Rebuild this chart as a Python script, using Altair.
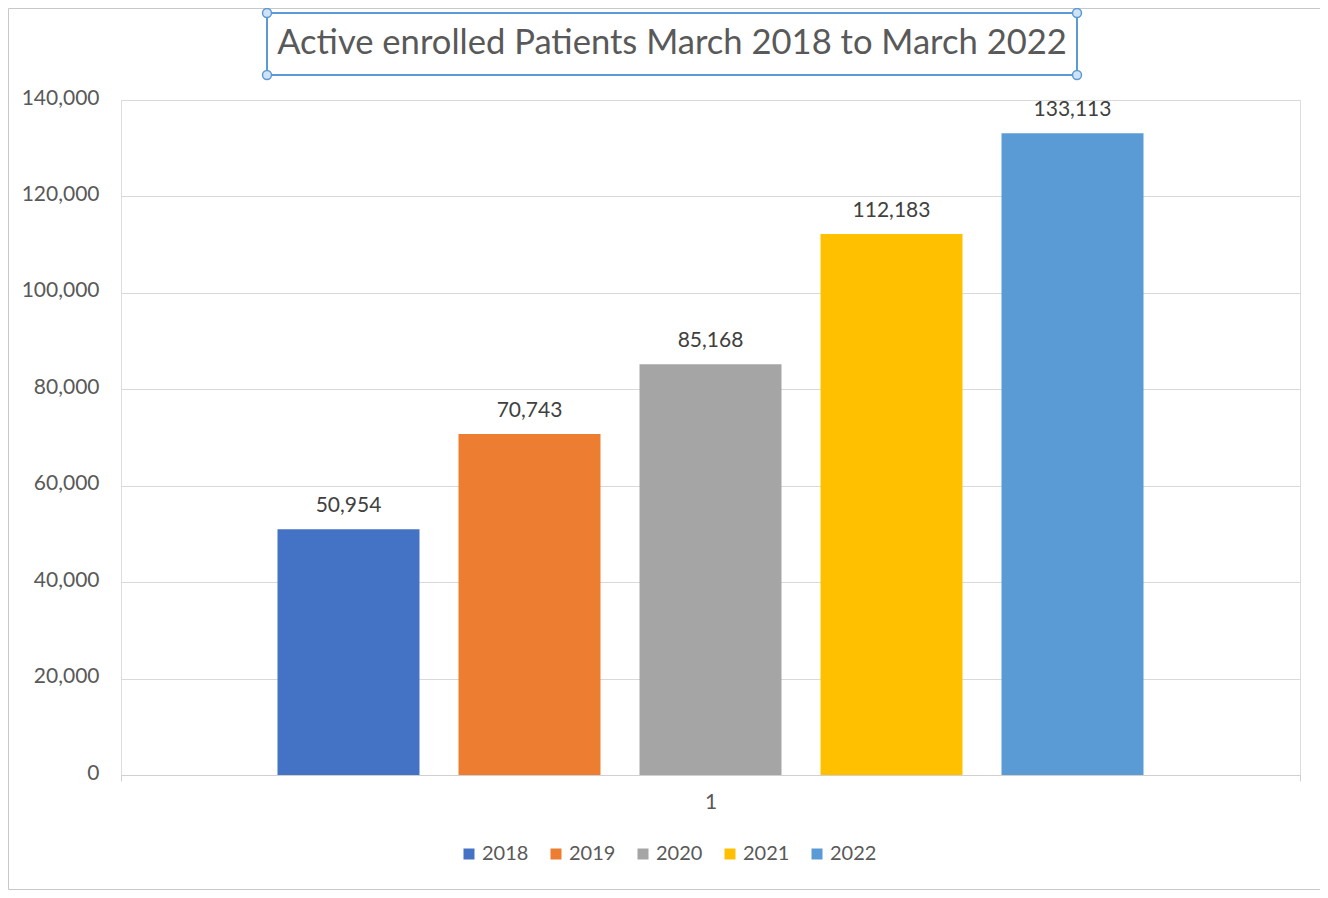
import altair as alt
import pandas as pd

categories = ["1"]
years = ["2018", "2019", "2020", "2021", "2022"]
values = [50954, 70743, 85168, 112183, 133113]
colors = ["#4472C4", "#ED7D31", "#A5A5A5", "#FFC000", "#5B9BD5"]
y_ticks = [0, 20000, 40000, 60000, 80000, 100000, 120000, 140000]
title_text = "Active enrolled Patients March 2018 to March 2022"

df = pd.DataFrame({"cat": categories * len(years), "year": years, "value": values})

FONT = "Lato"
W, H = 1179, 675

x_enc = alt.X("cat:N", title=None, scale=alt.Scale(paddingInner=0, paddingOuter=0),
              axis=alt.Axis(labelAngle=0, labelFontSize=21, labelColor="#595959", labelFont=FONT,
                            labelBaseline="middle", labelPadding=21, tickSize=6, tickBand="extent",
                            tickColor="#d0d0d0", domainColor="#d0d0d0", grid=False))
xo_enc = alt.XOffset("year:N", scale=alt.Scale(paddingInner=0.2155, paddingOuter=0.8646))
y_enc = alt.Y("value:Q", title=None,
              scale=alt.Scale(domain=[0, 140000], nice=False),
              axis=alt.Axis(values=y_ticks, format=",d", labelFontSize=21, labelColor="#595959",
                            labelFont=FONT, labelPadding=22, ticks=False, domain=False,
                            gridColor="#d9d9d9", labelOffset=-2))

base = alt.Chart(df)
bars = base.mark_bar().encode(
    x=x_enc, xOffset=xo_enc, y=y_enc,
    color=alt.Color("year:N", scale=alt.Scale(domain=years, range=colors),
                    legend=alt.Legend(title=None, orient="none", legendX=338, legendY=744,
                                      direction="horizontal", symbolType="square", symbolSize=121,
                                      symbolStrokeWidth=0, labelFontSize=20, labelFont=FONT,
                                      labelColor="#595959", columnPadding=17, labelOffset=3)),
)
labels = base.mark_text(fontSize=21, font=FONT, color="#404040", baseline="alphabetic", dy=-17).encode(
    x=alt.X("cat:N"), xOffset=alt.XOffset("year:N"), y=alt.Y("value:Q"),
    text=alt.Text("value:Q", format=",d"),
)

one = pd.DataFrame({"a": [0]})
frame = alt.Chart(one).mark_rect(fill=None, stroke="#c8c8c8", strokeWidth=1).encode(
    x=alt.value(-112.5), x2=alt.value(1230), y=alt.value(-91.5), y2=alt.value(789.5))
tbox = alt.Chart(one).mark_rect(fill=None, stroke="#5B9BD5", strokeWidth=2).encode(
    x=alt.value(146), x2=alt.value(956), y=alt.value(-87), y2=alt.value(-25))
ttext = alt.Chart(one).mark_text(text=title_text, fontSize=34.6, font=FONT, color="#595959",
                                 baseline="middle", align="center").encode(
    x=alt.value(551), y=alt.value(-56))
handles = [
    alt.Chart(one).mark_point(shape="circle", size=80, filled=True, fill="#cfe2f7",
                              stroke="#5B9BD5", strokeWidth=1.5, opacity=1).encode(
        x=alt.value(hx), y=alt.value(hy))
    for hx, hy in [(146, -87), (956, -87), (146, -25), (956, -25)]
]

chart = alt.layer(bars, labels, frame, tbox, ttext, *handles).properties(
    width=W, height=H,
    autosize=alt.AutoSizeParams(type="none"),
    padding={"left": 113, "top": 92, "right": 20, "bottom": 115},
).configure_view(stroke=None).configure(background="white")

chart.save("out.html", embed_options={"renderer": "svg", "actions": False})
